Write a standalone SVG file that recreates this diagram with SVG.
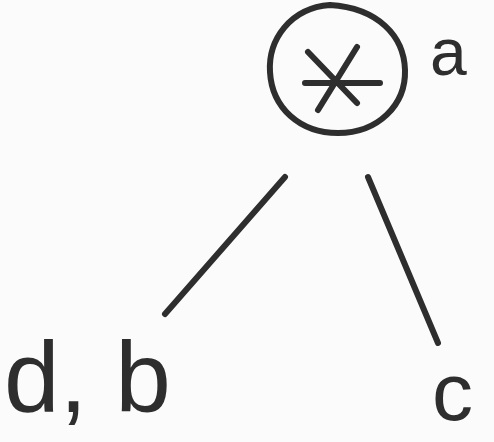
<svg xmlns="http://www.w3.org/2000/svg" width="494" height="442" viewBox="0 0 494 442">
<style>
.ink{fill:none;stroke:#2e2e2e;stroke-width:6;stroke-linecap:round;stroke-linejoin:round}
.lbl{font-family:"Liberation Sans","DejaVu Sans",sans-serif;fill:#2e2e2e}
</style>
<rect width="494" height="442" fill="#fbfbfb"/>
<g id="connectors">
<path class="ink" d="M285 177 L165 314"/>
<path class="ink" d="M368 177 L438 343"/>
</g>
<g id="node-root">
<path class="ink" d="M330 5 C290 8 268 40 270 72 C272 108 300 133 338 133 C378 133 406 105 405 70 C404 36 378 8 330 5 Z"/>
<path class="ink" d="M305 83 L380 83 M308 52 L357 103 M357 47 L318 110"/>
<text class="lbl" x="430" y="75" font-size="66">a</text>
</g>
<g id="node-db">
<text class="lbl" x="4" y="412" font-size="100">d, b</text>
</g>
<g id="node-c">
<text class="lbl" x="432" y="420" font-size="82">c</text>
</g>
</svg>
